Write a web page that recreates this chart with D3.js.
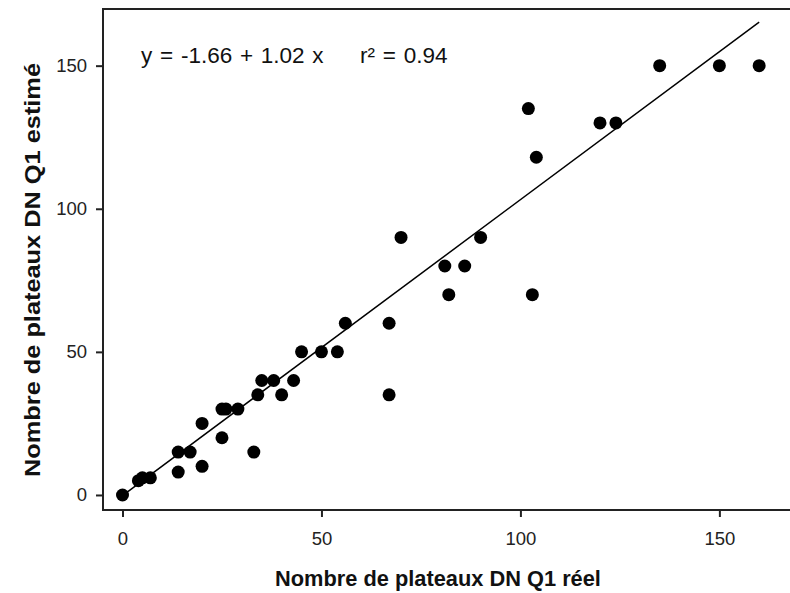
<!DOCTYPE html>
<html>
<head>
<meta charset="utf-8">
<script src="https://cdn.jsdelivr.net/npm/d3@7"></script>
<style>
  body { margin: 0; background: #fff; }
  svg { display: block; font-family: "Liberation Sans", Arial, sans-serif; }
</style>
</head>
<body>
<div id="chart"></div>
<script>
// valeurs
const reel   = [0, 4, 5, 7, 14, 14, 17, 20, 20, 25, 25, 26, 29, 33, 34, 35, 38, 40, 43, 45, 50, 54, 56, 67, 67, 70, 81, 82, 86, 90, 103, 102, 104, 120, 124, 135, 150, 160];
const estime = [0, 5, 6, 6, 8, 15, 15, 10, 25, 20, 30, 30, 30, 15, 35, 40, 40, 35, 40, 50, 50, 50, 60, 60, 35, 90, 80, 70, 80, 90, 70, 135, 118, 130, 130, 150, 150, 150];
const xTicks = [0, 50, 100, 150];
const yTicks = [0, 50, 100, 150];
// droite de régression (extrémités)
const lineX = [0, 160];
const lineY = [-0.2, 165.2];

const width = 790;
const height = 593;

let svg = d3.select("#chart").append("svg")
    .attr("width", width)
    .attr("height", height);

// échelles
let x = d3.scaleLinear().domain([-4.9, 168]).range([103, 791]);
let y = d3.scaleLinear().domain([-5.25, 169.8]).range([510, 9]);

// cadre (haut, gauche, bas)
svg.append("path")
    .attr("d", `M${width + 5},${y.range()[1]}H${x.range()[0]}V${y.range()[0]}H${width + 5}`)
    .attr("fill", "none")
    .attr("stroke", "#222")
    .attr("stroke-width", 2);

// axe X
let xAxis = svg.append("g")
    .attr("transform", `translate(0,${y.range()[0]})`)
    .call(d3.axisBottom(x).tickValues(xTicks).tickSize(7).tickSizeOuter(0).tickPadding(15));
xAxis.select(".domain").remove();
xAxis.selectAll(".tick line").attr("stroke", "#222").attr("stroke-width", 2);
xAxis.selectAll(".tick text")
    .attr("font-size", 18.5)
    .attr("font-family", "Liberation Sans, Arial, sans-serif")
    .attr("fill", "#222");

// axe Y
let yAxis = svg.append("g")
    .attr("transform", `translate(${x.range()[0]},0)`)
    .call(d3.axisLeft(y).tickValues(yTicks).tickSize(7).tickSizeOuter(0).tickPadding(9));
yAxis.select(".domain").remove();
yAxis.selectAll(".tick line").attr("stroke", "#222").attr("stroke-width", 2);
yAxis.selectAll(".tick text")
    .attr("font-size", 18.5)
    .attr("font-family", "Liberation Sans, Arial, sans-serif")
    .attr("fill", "#222");

// droite de régression
svg.append("line")
    .attr("x1", x(lineX[0]))
    .attr("y1", y(lineY[0]))
    .attr("x2", x(lineX[1]))
    .attr("y2", y(lineY[1]))
    .attr("stroke", "#000")
    .attr("stroke-width", 1.5);

// points
svg.selectAll("circle")
    .data(reel)
    .enter()
    .append("circle")
    .attr("cx", d => x(d))
    .attr("cy", (d, i) => y(estime[i]))
    .attr("r", 6.5)
    .attr("fill", "#000");

// équation
svg.append("text")
    .attr("x", 141)
    .attr("y", 63)
    .attr("font-size", 22.5)
    .attr("word-spacing", 1.5)
    .attr("fill", "#111")
    .text("y = -1.66 + 1.02 x");
svg.append("text")
    .attr("x", 360)
    .attr("y", 63)
    .attr("font-size", 22.5)
    .attr("word-spacing", 1.5)
    .attr("fill", "#111")
    .text("r² = 0.94");

// titres des axes
svg.append("text")
    .attr("x", 438)
    .attr("y", 586)
    .attr("text-anchor", "middle")
    .attr("font-size", 21.8)
    .attr("font-weight", "bold")
    .attr("fill", "#111")
    .text("Nombre de plateaux DN Q1 réel");

svg.append("text")
    .attr("transform", "translate(40,270) rotate(-90)")
    .attr("text-anchor", "middle")
    .attr("font-size", 22)
    .attr("font-weight", "bold")
    .attr("textLength", 414)
    .attr("lengthAdjust", "spacingAndGlyphs")
    .attr("fill", "#111")
    .text("Nombre de plateaux DN Q1 estimé");
</script>
</body>
</html>
